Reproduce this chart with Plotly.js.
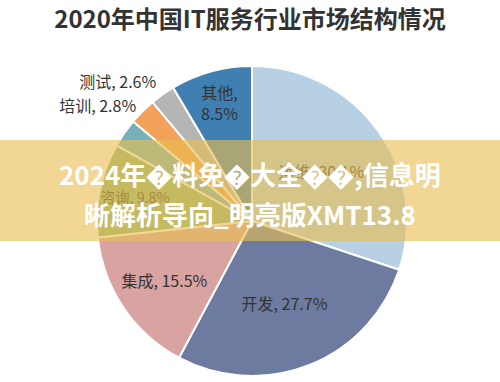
<!DOCTYPE html>
<html>
<head>
<meta charset="utf-8">
<script src="https://cdn.plot.ly/plotly-3.0.1.min.js"></script>
<style>html,body{margin:0;padding:0;background:#fff;}#chart{width:500px;height:382px;}
.textline{stroke-opacity:0 !important;}</style>
</head>
<body>
<div id="chart"></div>
<script>
var categories = ["运维", "开发", "集成", "咨询", "外包", "培训", "测试", "其他"];
var shares = [30.1, 27.7, 15.5, 9.8, 3.0, 2.8, 2.6, 8.5];
var sliceColors = ["#b7d0e4", "#6d7ba0", "#d9a3a1", "#8fb27a", "#76b1b9", "#f2a05a", "#b5b5b5", "#3f7fb2"];
var labelTexts = ["运维, 30.1%", "开发, 27.7%", "集成, 15.5%", "咨询, 9.8%", "", "培训, 2.8%", "测试, 2.6%", "其他,<br>8.5%"];
var labelPositions = ["inside", "inside", "inside", "inside", "none", "outside", "outside", "inside"];
var chartTitle = "2020年中国IT服务行业市场结构情况";
var bannerLines = ["2024年\uFFFD料免\uFFFD大全\uFFFD\uFFFD,信息明", "晰解析导向_明亮版XMT13.8"];

var W = 500, H = 382;
var cx = 252, cy = 221, R = 155;

var trace = {
  type: "pie",
  labels: categories,
  values: shares,
  text: labelTexts,
  textinfo: "text",
  textposition: labelPositions,
  insidetextorientation: "horizontal",
  sort: false,
  direction: "clockwise",
  rotation: 0,
  hole: 0,
  marker: {colors: sliceColors, line: {color: "#ffffff", width: 2}},
  textfont: {family: "Noto Sans CJK SC, sans-serif", size: 16, color: "#333333"},
  outsidetextfont: {family: "Noto Sans CJK SC, sans-serif", size: 16, color: "#333333"},
  domain: {x: [(cx - R) / W, (cx + R) / W], y: [1 - (cy + R) / H, 1 - (cy - R) / H]},
  showlegend: false,
  hoverinfo: "none"
};

var layout = {
  width: W, height: H,
  margin: {l: 0, r: 0, t: 0, b: 0},
  paper_bgcolor: "#ffffff",
  title: {text: "<b>" + chartTitle + "</b>", x: 0.5, xanchor: "center", y: 1 - 20 / H, yanchor: "middle",
          font: {family: "Noto Sans CJK SC, sans-serif", size: 24, color: "#333333"}},
  shapes: [{type: "rect", xref: "paper", yref: "paper", x0: 0, x1: 1, y0: 1 - 241 / H, y1: 1 - 140 / H,
            fillcolor: "rgba(232,190,80,0.62)", line: {width: 0}, layer: "above"}],
  annotations: [
    {xref: "paper", yref: "paper", x: 0.5, y: 1 - 173 / H, xanchor: "center", yanchor: "middle", showarrow: false,
     text: "<b>" + bannerLines[0] + "</b>", font: {family: "Noto Sans CJK SC, sans-serif", size: 26, color: "#ffffff"}},
    {xref: "paper", yref: "paper", x: 0.5, y: 1 - 213 / H, xanchor: "center", yanchor: "middle", showarrow: false,
     text: "<b>" + bannerLines[1] + "</b>", font: {family: "Noto Sans CJK SC, sans-serif", size: 26, color: "#ffffff"}}
  ]
};

Plotly.newPlot("chart", [trace], layout, {displayModeBar: false, staticPlot: true});
</script>
</body>
</html>
